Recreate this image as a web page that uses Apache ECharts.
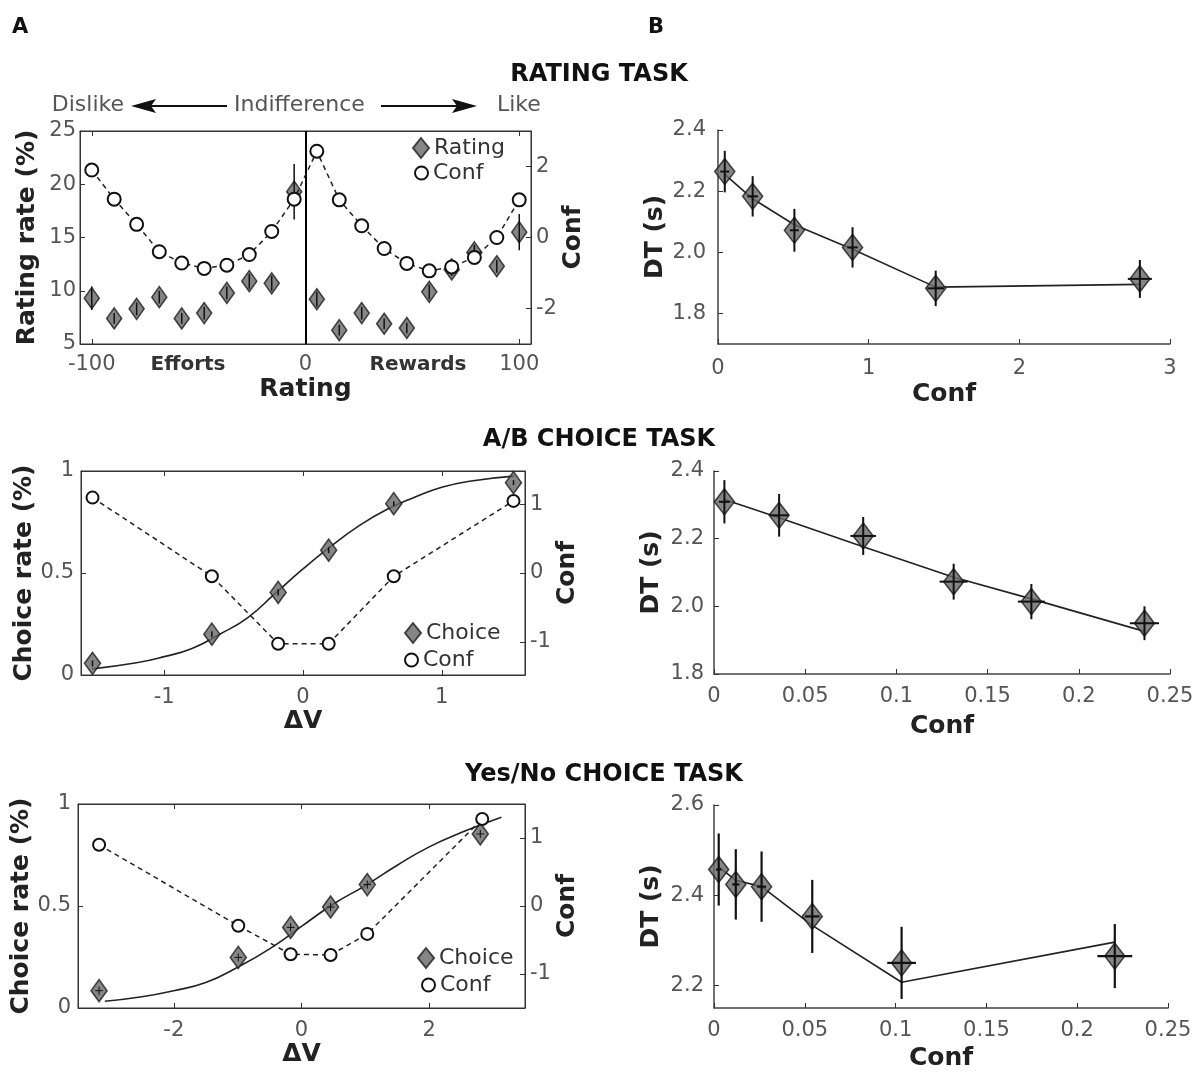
<!DOCTYPE html>
<html><head><meta charset="utf-8">
<script src="https://cdn.jsdelivr.net/npm/echarts@6/dist/echarts.min.js"></script>
<style>html,body{margin:0;padding:0;background:#fff;}#c{width:1197px;height:1075px;}</style>
</head><body><div id="c"></div>
<script>
// ---------- Panel A1: rating task ----------
const ratingX = [-100,-89.5,-79,-68.4,-57.9,-47.4,-36.8,-26.3,-15.8,-5.3,5.3,15.8,26.3,36.8,47.4,57.9,68.4,79,89.5,100];
const ratingRate = [9.3,7.4,8.3,9.4,7.4,7.9,9.8,10.9,10.7,19.3,9.2,6.3,7.9,6.9,6.5,9.9,12.0,13.6,12.3,15.5];
const ratingRateErr = [1.1,0.5,0.6,0.6,0.5,0.6,0.6,0.7,0.7,2.6,0.7,0.5,0.6,0.5,0.5,0.7,0.6,0.7,0.6,1.7];
const ratingConf = [1.90,1.08,0.37,-0.40,-0.72,-0.87,-0.78,-0.48,0.17,1.08,2.43,1.06,0.33,-0.31,-0.73,-0.94,-0.83,-0.56,0.0,1.06];
const ratingTicks = [-100,0,100];
const ratingConfTicks = [-2,0,2];

// ---------- Panel B1 ----------
const b1Conf = [0.045,0.23,0.507,0.893,1.445,2.80];
const b1DT = [2.264,2.183,2.072,2.016,1.882,1.913];
const b1DTErr = [0.068,0.066,0.07,0.066,0.058,0.062];
const b1ConfErr = [0.03,0.035,0.03,0.035,0.055,0.08];
const b1Fit = [2.255,2.175,2.09,2.01,1.886,1.895];
const b1YTicks = [1.8,2.0,2.2,2.4];

// ---------- Panel A2: A/B choice ----------
const abDV = [-1.517,-0.657,-0.179,0.185,0.654,1.517];
const abChoice = [0.057,0.20,0.405,0.612,0.84,0.943];
const abChoiceErr = [0.015,0.015,0.015,0.015,0.012,0.012];
const abConf = [1.094,-0.048,-1.027,-1.027,-0.048,1.046];
const abFitX = [-1.52,-1.2,-1,-0.8,-0.6,-0.4,-0.2,0,0.2,0.4,0.6,0.8,1,1.2,1.52];
const abFitY = [0.03,0.06,0.09,0.13,0.20,0.28,0.40,0.52,0.63,0.73,0.81,0.87,0.92,0.95,0.975];
const abXTicks = [-1,0,1];
const abConfTicks = [-1,0,1];

// ---------- Panel B2 ----------
const b2Conf = [0.0057,0.0357,0.0818,0.1314,0.174,0.236];
const b2DT = [2.309,2.269,2.208,2.073,2.014,1.95];
const b2DTErr = [0.064,0.063,0.056,0.053,0.052,0.05];
const b2ConfErr = [0.003,0.005,0.007,0.0077,0.0074,0.008];
const b2Fit = [2.316,2.262,2.176,2.086,2.022,1.926];

// ---------- Panel A3: Yes/No choice ----------
const ynDV = [-3.17,-0.99,-0.17,0.455,1.03,2.80];
const ynChoice = [0.085,0.248,0.395,0.495,0.605,0.853];
const ynChoiceErr = [0.02,0.02,0.02,0.02,0.02,0.02];
const ynChoiceXErr = [0.06,0.06,0.06,0.06,0.06,0.06];
const ynConfX = [-3.17,-0.99,-0.17,0.455,1.03,2.83];
const ynConf = [0.90,-0.29,-0.71,-0.72,-0.41,1.28];
const ynFitX = [-3.08,-2.5,-2,-1.5,-1,-0.5,0,0.5,1,1.5,2,2.5,3.13];
const ynFitY = [0.033,0.055,0.085,0.125,0.20,0.29,0.40,0.51,0.60,0.70,0.79,0.86,0.935];
const ynXTicks = [-2,0,2];
const ynConfTicks = [-1,0,1];

// ---------- Panel B3 ----------
const b3Conf = [0.0026,0.012,0.0262,0.0541,0.1033,0.2207];
const b3DT = [2.457,2.424,2.419,2.353,2.250,2.265];
const b3DTErr = [0.08,0.078,0.078,0.081,0.08,0.071];
const b3ConfErr = [0.0015,0.002,0.0025,0.004,0.0079,0.0096];
const b3Fit = [2.463,2.433,2.419,2.333,2.207,2.296];
const b3YTicks = [2.2,2.4,2.6];

// ---------- styles ----------
const FONT = 'DejaVu Sans';
const LAB = {color:'#555', fontSize:21, fontFamily:FONT};
const NAME = {color:'#222', fontSize:25, fontWeight:'bold', fontFamily:FONT};
const DIAM = {color:'#686868', borderColor:'#1e1e1e', borderWidth:1.6};
const CIRC = {color:'#fff', borderColor:'#111', borderWidth:2};
const zip = (a,b) => a.map((v,i)=>[v,b[i]]);
const f1 = v => v.toFixed(1);

function axis(o) {
  const base = {type:'value', splitLine:{show:false},
    axisLine:{show:true, onZero:false, lineStyle:{color:'#333', width:1}},
    axisTick:{show:true, inside:true, length:5, lineStyle:{color:'#333', width:1}},
    axisLabel:Object.assign({margin:8}, LAB),
    nameLocation:'middle', nameTextStyle:Object.assign({}, NAME)};
  const r = Object.assign({}, base, o);
  r.axisLabel = Object.assign({}, base.axisLabel, o.axisLabel||{});
  r.axisTick = Object.assign({}, base.axisTick, o.axisTick||{});
  r.axisLine = Object.assign({}, base.axisLine, o.axisLine||{});
  return r;
}
function withCustom(o, vals, lab){
  o.axisTick = Object.assign({}, o.axisTick||{}, {customValues:vals});
  o.axisLabel = Object.assign({}, o.axisLabel||{}, {customValues:vals}, lab||{});
  return o;
}

function errSeries(xi, yi, xs, ys, ey, ex, w) {
  return {type:'custom', xAxisIndex:xi, yAxisIndex:yi, z:6, silent:true,
    dimensions:['x','y','ey','ex'], encode:{x:0, y:1},
    data: xs.map((x,i)=>[x, ys[i], ey[i], ex ? ex[i] : 0]),
    renderItem: function(params, api) {
      const x=api.value(0), y=api.value(1), e1=api.value(2), e2=api.value(3);
      const a=api.coord([x,y-e1]), b=api.coord([x,y+e1]);
      const st={stroke:'#111', lineWidth:w};
      const ch=[{type:'line', shape:{x1:a[0],y1:a[1],x2:b[0],y2:b[1]}, style:st}];
      if (e2>0) { const c=api.coord([x-e2,y]), d=api.coord([x+e2,y]);
        ch.push({type:'line', shape:{x1:c[0],y1:c[1],x2:d[0],y2:d[1]}, style:st}); }
      return {type:'group', children:ch};
    }};
}

const boxGrid = {show:true, borderColor:'#333', borderWidth:1, backgroundColor:'transparent', outerBoundsMode:'none', containLabel:false};
const openGrid = {show:false, outerBoundsMode:'none', containLabel:false};

const grids = [
  Object.assign({left:80, top:131, width:451, height:213}, boxGrid),   // A1
  Object.assign({left:718, top:130, width:452, height:214}, openGrid), // B1
  Object.assign({left:81, top:471, width:444, height:204}, boxGrid),   // A2
  Object.assign({left:714, top:471, width:456, height:203}, openGrid), // B2
  Object.assign({left:78, top:804, width:447, height:204}, boxGrid),   // A3
  Object.assign({left:714, top:805, width:454, height:203}, openGrid)  // B3
];

const bAxisLine = {lineStyle:{color:'#444', width:1.5}};
const xAxes = [
  withCustom(axis({gridIndex:0, position:'bottom', min:-105.5, max:105.5, name:'Rating', nameGap:33}), ratingTicks, {margin:10}),
  withCustom(axis({gridIndex:0, position:'top', min:-105.5, max:105.5}), ratingTicks, {show:false}),
  axis({gridIndex:1, min:0, max:3, interval:1, name:'Conf', nameGap:38, axisLine:bAxisLine, axisLabel:{margin:14}}),
  withCustom(axis({gridIndex:2, position:'bottom', min:-1.6, max:1.6, name:'ΔV', nameGap:30}), abXTicks, {margin:12}),
  withCustom(axis({gridIndex:2, position:'top', min:-1.6, max:1.6}), abXTicks, {show:false}),
  axis({gridIndex:3, min:0, max:0.25, interval:0.05, name:'Conf', nameGap:40, axisLine:bAxisLine, axisLabel:{margin:12}}),
  withCustom(axis({gridIndex:4, position:'bottom', min:-3.5, max:3.5, name:'ΔV', nameGap:30}), ynXTicks, {margin:12}),
  withCustom(axis({gridIndex:4, position:'top', min:-3.5, max:3.5}), ynXTicks, {show:false}),
  axis({gridIndex:5, min:0, max:0.25, interval:0.05, name:'Conf', nameGap:38, axisLine:bAxisLine, axisLabel:{margin:12}})
];
const yAxes = [
  axis({gridIndex:0, position:'left', min:5, max:25, interval:5, name:'Rating rate (%)', nameRotate:90, nameGap:40, axisLabel:{margin:4}}),
  withCustom(axis({gridIndex:0, position:'right', min:-3, max:3, name:'Conf', nameRotate:90, nameGap:22}), ratingConfTicks, {margin:5}),
  withCustom(axis({gridIndex:1, min:1.7, max:2.4, name:'DT (s)', nameRotate:90, nameGap:50, axisLine:bAxisLine}), b1YTicks, {margin:12, formatter:f1}),
  axis({gridIndex:2, position:'left', min:0, max:1, interval:0.5, name:'Choice rate (%)', nameRotate:90, nameGap:40, axisLabel:{margin:7}}),
  withCustom(axis({gridIndex:2, position:'right', min:-1.48, max:1.48, name:'Conf', nameRotate:90, nameGap:24}), abConfTicks, {margin:5}),
  axis({gridIndex:3, min:1.8, max:2.4, interval:0.2, name:'DT (s)', nameRotate:90, nameGap:50, axisLine:bAxisLine, axisLabel:{margin:10, formatter:f1}}),
  axis({gridIndex:4, position:'left', min:0, max:1, interval:0.5, name:'Choice rate (%)', nameRotate:90, nameGap:40, axisLabel:{margin:7}}),
  withCustom(axis({gridIndex:4, position:'right', min:-1.5, max:1.5, name:'Conf', nameRotate:90, nameGap:24}), ynConfTicks, {margin:5}),
  withCustom(axis({gridIndex:5, min:2.15, max:2.6, name:'DT (s)', nameRotate:90, nameGap:50, axisLine:bAxisLine}), b3YTicks, {margin:10, formatter:f1})
];

function diamonds(name, xi, yi, xs, ys, size) {
  return {type:'scatter', name:name, xAxisIndex:xi, yAxisIndex:yi, symbol:'diamond', symbolSize:size,
    itemStyle:DIAM, data:zip(xs,ys), z:4, silent:true};
}
function confLine(xi, yi, xs, ys, size) {
  return {type:'line', name:'Conf', xAxisIndex:xi, yAxisIndex:yi, symbol:'circle', symbolSize:size, showSymbol:true,
    itemStyle:CIRC, lineStyle:{color:'#222', width:1.5, type:[5,4]}, data:zip(xs,ys), z:7, silent:true};
}
function fitLine(xi, yi, xs, ys, smooth) {
  return {type:'line', xAxisIndex:xi, yAxisIndex:yi, symbol:'none', smooth:smooth||false,
    lineStyle:{color:'#222', width:1.6}, data:zip(xs,ys), z:3, silent:true};
}

const ratingSeries = diamonds('Rating', 0, 0, ratingX, ratingRate, [15,21]);
ratingSeries.markLine = {silent:true, symbol:['none','none'], label:{show:false},
  lineStyle:{color:'#000', type:'solid', width:2}, data:[{xAxis:0}], animation:false};

const series = [
  ratingSeries,
  errSeries(0, 0, ratingX, ratingRate, ratingRateErr, null, 1.5),
  confLine(0, 1, ratingX, ratingConf, 13),
  fitLine(2, 2, b1Conf, b1Fit),
  diamonds('DT1', 2, 2, b1Conf, b1DT, [20,26]),
  errSeries(2, 2, b1Conf, b1DT, b1DTErr, b1ConfErr, 2),
  fitLine(3, 3, abFitX, abFitY, 0.5),
  diamonds('Choice', 3, 3, abDV, abChoice, [16,22]),
  errSeries(3, 3, abDV, abChoice, abChoiceErr, null, 1.5),
  confLine(3, 4, abDV, abConf, 12),
  fitLine(5, 5, b2Conf, b2Fit),
  diamonds('DT2', 5, 5, b2Conf, b2DT, [20,26]),
  errSeries(5, 5, b2Conf, b2DT, b2DTErr, b2ConfErr, 2),
  fitLine(6, 6, ynFitX, ynFitY, 0.5),
  diamonds('Choice', 6, 6, ynDV, ynChoice, [16,22]),
  errSeries(6, 6, ynDV, ynChoice, ynChoiceErr, ynChoiceXErr, 1),
  confLine(6, 7, ynConfX, ynConf, 12),
  fitLine(8, 8, b3Conf, b3Fit),
  diamonds('DT3', 8, 8, b3Conf, b3DT, [20,26]),
  errSeries(8, 8, b3Conf, b3DT, b3DTErr, b3ConfErr, 2.2)
];

const LEGTXT = {color:'#333', fontSize:22, fontFamily:FONT};
function leg(name, icon, left, top, w, h, style) {
  const d = {name:name, icon:icon};
  if (style) d.itemStyle = style;
  return {data:[d], left:left, top:top, itemWidth:w, itemHeight:h, padding:0, selectedMode:false, textStyle:LEGTXT};
}
const legends = [
  leg('Rating','diamond',412,137,16,20),
  leg('Conf','circle',414,162,13,13,CIRC),
  leg('Choice','diamond',404,622,16,20),
  leg('Conf','circle',404,649,13,13,CIRC),
  leg('Choice','diamond',417,947,16,20),
  leg('Conf','circle',421,974,13,13,CIRC)
];

function txt(text, left, top, size, bold, color, align) {
  return {text:text, left:left, top:top, padding:0, textAlign:align||'left',
    textStyle:{fontSize:size, fontWeight:bold?'bold':'normal', color:color, fontFamily:FONT}};
}
const titles = [
  txt('A', 12, 17, 21, true, '#111'),
  txt('B', 648, 17, 21, true, '#111'),
  txt('RATING TASK', 599, 63, 24, true, '#111', 'center'),
  txt('A/B CHOICE TASK', 599, 428, 24, true, '#111', 'center'),
  txt('Yes/No CHOICE TASK', 604, 763, 24, true, '#111', 'center'),
  txt('Dislike', 124, 94, 22, false, '#555', 'right'),
  txt('Indifference', 234, 94, 22, false, '#555'),
  txt('Like', 497, 94, 22, false, '#555'),
  txt('Efforts', 188, 355, 20, true, '#333', 'center'),
  txt('Rewards', 418, 355, 20, true, '#333', 'center')
];

const graphic = [
  {type:'line', shape:{x1:150,y1:106,x2:227,y2:106}, style:{stroke:'#111', lineWidth:2}},
  {type:'polygon', shape:{points:[[131,106],[156,99],[151,106],[156,113]]}, style:{fill:'#111'}},
  {type:'line', shape:{x1:381,y1:106,x2:458,y2:106}, style:{stroke:'#111', lineWidth:2}},
  {type:'polygon', shape:{points:[[477,106],[452,99],[457,106],[452,113]]}, style:{fill:'#111'}}
];

const chart = echarts.init(document.getElementById('c'), null, {renderer:'canvas'});
chart.setOption({
  animation:false, backgroundColor:'#fff',
  title:titles, legend:legends, grid:grids, xAxis:xAxes, yAxis:yAxes, series:series, graphic:graphic
});
</script></body></html>
